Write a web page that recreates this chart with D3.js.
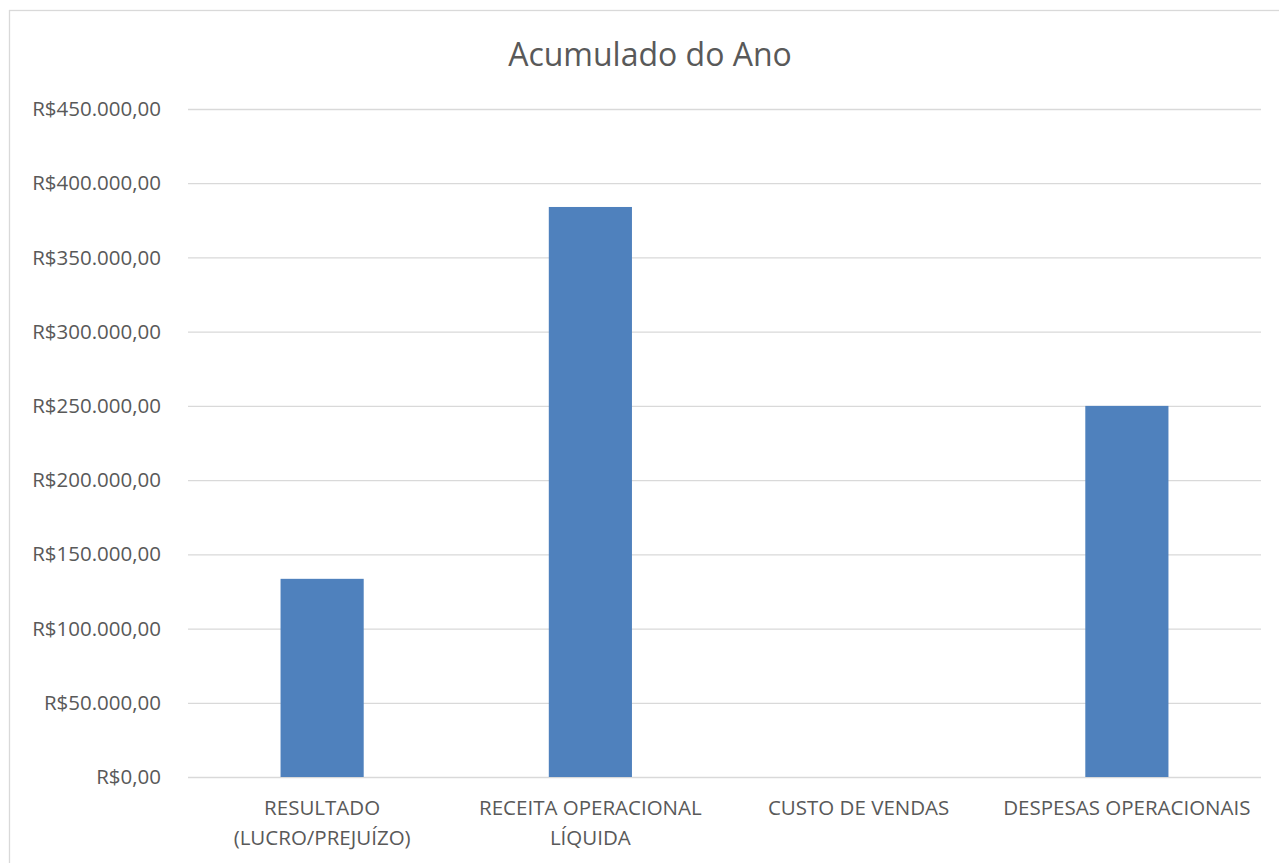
<!DOCTYPE html>
<head>
<meta charset="utf-8">
<script src="https://d3js.org/d3.v7.min.js"></script>
</head>
<style>
body { margin: 0; background: #fff; }
text { font-family: "Open Sans", "Noto Sans", sans-serif; fill: #595959; }
.grid line { stroke: #d9d9d9; stroke-width: 1.3px; }
.grid path { display: none; }
</style>
<body>
<script>
var categories = [["RESULTADO", "(LUCRO/PREJUÍZO)"], ["RECEITA OPERACIONAL", "LÍQUIDA"], ["CUSTO DE VENDAS"], ["DESPESAS OPERACIONAIS"]];
var values = [133500, 384000, 0, 250000];
var yTicks = [0, 50000, 100000, 150000, 200000, 250000, 300000, 350000, 400000, 450000];
var title = "Acumulado do Ano";

var W = 1279, H = 863;
var margin = {top: 109, right: 18, bottom: 86, left: 188},
    width = 1261 - margin.left,
    height = 777 - margin.top;

var svg = d3.select("body").append("svg")
    .attr("width", W)
    .attr("height", H);

// chart border
svg.append("rect")
    .attr("x", 9.5).attr("y", 10.5)
    .attr("width", W + 20).attr("height", H + 20)
    .attr("fill", "none").attr("stroke", "#d9d9d9").attr("stroke-width", 1.3);

svg.append("text")
    .attr("x", 650).attr("y", 66)
    .attr("text-anchor", "middle")
    .style("font-size", "32px")
    .text(title);

var g = svg.append("g")
    .attr("transform", "translate(" + margin.left + "," + margin.top + ")");

var x = d3.scaleBand()
    .domain(d3.range(categories.length))
    .range([0, width])
    .paddingInner(0.69).paddingOuter(0.345);
var y = d3.scaleLinear().domain([0, 450000]).range([height, 0]);

var fmt = function(v) {
  var s = d3.format(",.2f")(v);
  s = s.replace(/,/g, "#").replace(".", ",").replace(/#/g, ".");
  return "R$" + s;
};

g.append("g")
    .attr("class", "grid")
    .call(d3.axisLeft(y).tickValues(yTicks).tickSize(-width).tickFormat(""));

var yAxis = g.append("g")
    .call(d3.axisLeft(y).tickValues(yTicks).tickSize(0).tickPadding(27).tickFormat(fmt));
yAxis.select(".domain").remove();
yAxis.selectAll("text").style("font-size", "20.5px").attr("fill", "#595959");

g.selectAll(".bar")
    .data(values)
    .enter().append("rect")
    .attr("class", "bar")
    .attr("x", function(d, i) { return x(i); })
    .attr("width", x.bandwidth())
    .attr("y", function(d) { return y(d); })
    .attr("height", function(d) { return height - y(d); })
    .attr("fill", "#4f81bd");

var xl = g.selectAll(".xlabel")
    .data(categories)
    .enter().append("text")
    .attr("class", "xlabel")
    .attr("text-anchor", "middle")
    .attr("x", function(d, i) { return x(i) + x.bandwidth() / 2; })
    .attr("y", height + 38)
    .style("font-size", "20.5px");
xl.selectAll("tspan")
    .data(function(d) { return d; })
    .enter().append("tspan")
    .attr("x", function() { return d3.select(this.parentNode).attr("x"); })
    .attr("dy", function(d, i) { return i ? 30 : 0; })
    .text(function(d) { return d; });
</script>
</body>
